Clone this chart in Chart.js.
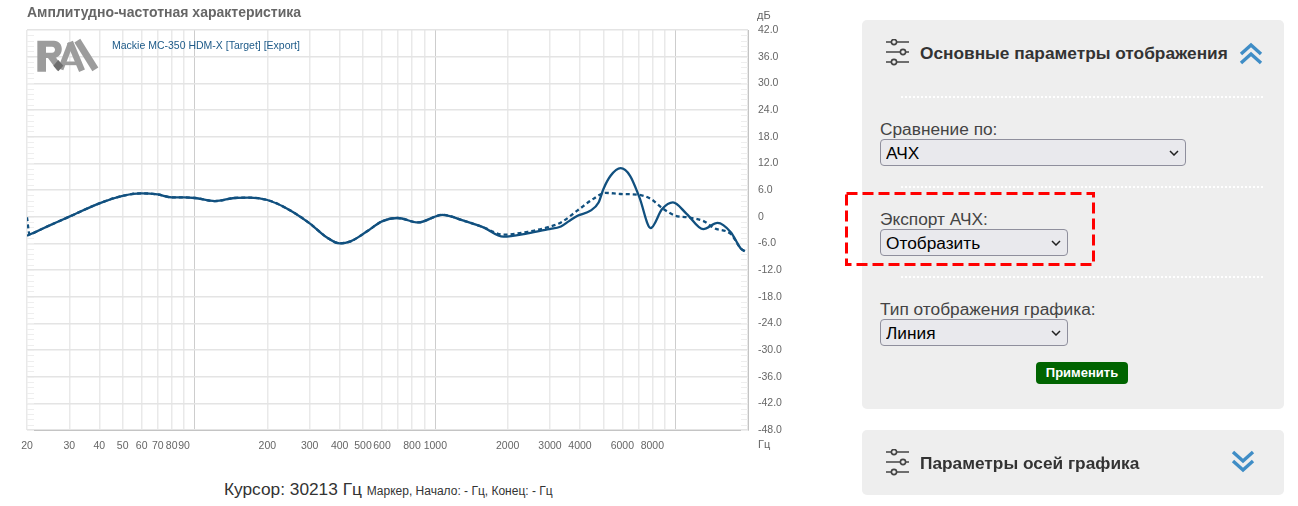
<!DOCTYPE html>
<html lang="ru">
<head>
<meta charset="utf-8">
<title>АЧХ</title>
<script src="https://cdn.jsdelivr.net/npm/chart.js@4/dist/chart.umd.min.js"></script>
<style>
html, body { margin: 0; padding: 0; background: #fff; overflow: hidden; }
body { width: 1298px; height: 506px; position: relative; font-family: "Liberation Sans", Arial, sans-serif; }
.abs { position: absolute; white-space: nowrap; }
#chartBox { position: absolute; left: 0; top: 1px; width: 800px; height: 470px; }
.panel { position: absolute; left: 862px; width: 422px; background: #eee; border-radius: 5px; }
.head { font-weight: bold; font-size: 17.3px; color: #333; }
.lbl { font-size: 17.3px; color: #444; }
.dots { position: absolute; left: 901px; width: 362px; border-top: 2px dotted #fff; height: 0; }
select { position: absolute; font: 17.3px "Liberation Sans", Arial, sans-serif; height: 27px; border: 1px solid #8f8f9d; border-radius: 4px; color: #000; padding: 1px 0 0 5px; box-sizing: border-box; appearance: none; -webkit-appearance: none;
  background: #e9e9ed url("data:image/svg+xml,%3Csvg xmlns='http://www.w3.org/2000/svg' width='10' height='6'%3E%3Cpath d='M1 1l4 4 4-4' fill='none' stroke='%23222' stroke-width='1.5'/%3E%3C/svg%3E") no-repeat right 6px center; }
#apply { position: absolute; left: 1036px; top: 362px; width: 92px; height: 22px; background: #006400; color: #fff; border-radius: 4px; font: bold 13px/22px "Liberation Sans", Arial, sans-serif; text-align: center; }
</style>
</head>
<body>
<div id="chartBox"><canvas id="afcChart" width="800" height="470"></canvas></div>

<div class="abs" style="left:27px;top:4px;font:bold 14px/16px 'Liberation Sans',Arial,sans-serif;color:#666">Амплитудно-частотная характеристика</div>
<svg class="abs" style="left:20px;top:20px" width="100" height="70" viewBox="0 0 300 210">
  <g stroke="#9c9c9c" fill="none">
    <path d="M52 62H102C132 62 134 108 104 114H78V155H52Z" fill="#9c9c9c" stroke="none"/>
    <path d="M78 80H96C108 80 108 98 96 98H78Z" fill="#fff" stroke="none"/>
    <line x1="92" y1="108" x2="120" y2="146" stroke-width="20"/>
    <line x1="122" y1="148" x2="152" y2="70" stroke-width="17"/>
    <line x1="150" y1="66" x2="186" y2="152" stroke-width="19"/>
    <line x1="132" y1="130" x2="172" y2="130" stroke-width="11"/>
    <line x1="172" y1="62" x2="226" y2="148" stroke-width="21"/>
  </g>
  <path d="M115 120l15 17-15 17-15-17z" fill="#6f6f6f"/>
</svg>
<div class="abs" style="left:112px;top:39px;font-size:10.5px;line-height:13px;color:#1d5a88">Mackie MC-350 HDM-X [Target] [Export]</div>
<div class="abs" style="left:757px;top:9px;font-size:11px;line-height:13px;color:#666">дБ</div>
<div class="abs" style="left:758px;top:438px;font-size:11px;line-height:13px;color:#666">Гц</div>
<div class="abs" style="left:224px;top:479px;font-size:17.3px;line-height:20px;color:#333">Курсор: 30213 Гц <span style="font-size:12px">Маркер, Начало: - Гц, Конец: - Гц</span></div>

<div class="panel" style="top:20px;height:389px"></div>
<div class="panel" style="top:430px;height:65px"></div>

<svg class="abs" style="left:885px;top:39px" width="26" height="28" viewBox="0 0 26 28"><use href="#sliders"/></svg>
<svg class="abs" style="left:885px;top:449px" width="26" height="28" viewBox="0 0 26 28">
  <g id="sliders" stroke="#444" stroke-width="1.6" fill="#eee">
    <path d="M1 3h5M12 3h12M1 13h14M21 13h3M1 23h5M12 23h12" fill="none"/>
    <circle cx="9" cy="3" r="2.6"/><circle cx="18" cy="13" r="2.6"/><circle cx="9" cy="23" r="2.6"/>
  </g>
</svg>
<div class="abs head" style="left:920px;top:43px">Основные параметры отображения</div>
<div class="abs head" style="left:920px;top:453px">Параметры осей графика</div>
<svg class="abs" style="left:1239px;top:42px" width="24" height="23" viewBox="0 0 24 23" fill="none" stroke="#3f8dc6" stroke-width="3.4"><path d="M2 12 12 3l10 9M2 21l10-9 10 9"/></svg>
<svg class="abs" style="left:1231px;top:450px" width="24" height="23" viewBox="0 0 24 23" fill="none" stroke="#3f8dc6" stroke-width="3.4"><path d="M2 2l10 9 10-9M2 11l10 9 10-9"/></svg>

<div class="dots" style="top:96px"></div>
<div class="dots" style="top:186px"></div>
<div class="dots" style="top:276px"></div>

<div class="abs lbl" style="left:880px;top:119px">Сравнение по:</div>
<select style="left:880px;top:139px;width:306px"><option>АЧХ</option></select>
<div class="abs lbl" style="left:880px;top:209px">Экспорт АЧХ:</div>
<select style="left:880px;top:229px;width:188px"><option>Отобразить</option></select>
<div class="abs lbl" style="left:880px;top:299px">Тип отображения графика:</div>
<select style="left:880px;top:319px;width:188px"><option>Линия</option></select>
<div id="apply">Применить</div>
<svg class="abs" style="left:840px;top:188px" width="260" height="82"><rect x="6.5" y="5.5" width="247" height="71" fill="none" stroke="#f00" stroke-width="3" stroke-dasharray="11 5"/></svg>

<script>
// частоты и уровни
const targetFreq = [20, 22, 25, 30, 40, 50, 60, 70, 80, 90, 100, 121, 146, 167, 200, 242, 300, 353, 400, 444, 520, 600, 697, 848, 1070, 1312, 1585, 1918, 2423, 2928, 3332, 3600, 3906, 4423, 4778, 5012, 5362, 5902, 6461, 7067, 7875, 8784, 9743, 11106, 13024, 14942, 16961, 18700, 19400];
const targetDb = [-4.3, -3.3, -1.9, 0.0, 3.0, 4.7, 5.25, 5.0, 4.35, 4.35, 4.2, 3.5, 4.2, 4.3, 3.75, 1.8, -1.5, -4.65, -6.0, -5.55, -3.3, -1.05, -0.3, -1.3, 0.4, -0.9, -2.4, -4.5, -3.75, -2.85, -2.2, -1.0, 0.2, 1.35, 3.2, 6.3, 9.2, 10.9, 9.2, 4.35, -2.55, 1.7, 3.2, 0.65, -2.8, -1.4, -3.5, -7.2, -7.8];

const exportFreq = [20, 20.5, 22, 25, 30, 40, 50, 60, 70, 80, 90, 100, 121, 146, 167, 200, 242, 300, 353, 400, 444, 520, 600, 697, 848, 1070, 1312, 1585, 1918, 2423, 2928, 3332, 3897, 4543, 5109, 5906, 6966, 7875, 8784, 9995, 11207, 13125, 14437, 16961, 18700, 19400];
const exportDb = [-0.15, -4.0, -3.3, -1.9, 0.0, 3.0, 4.7, 5.25, 5.0, 4.35, 4.35, 4.2, 3.5, 4.2, 4.3, 3.75, 1.8, -1.5, -4.65, -6.0, -5.55, -3.3, -1.05, -0.3, -1.3, 0.4, -0.9, -2.4, -4.05, -3.4, -2.4, -1.3, 1.35, 4.0, 5.35, 5.1, 4.95, 4.0, 1.95, 0.2, -0.15, -1.05, -2.55, -3.9, -7.2, -7.8];

const gridFreq = [20, 30, 40, 50, 60, 70, 80, 90, 100, 200, 300, 400, 500, 600, 700, 800, 900, 1000, 2000, 3000, 4000, 5000, 6000, 7000, 8000, 9000, 10000, 20000];
const freqLabels = [20, 30, 40, 50, 60, 70, 80, 90, 200, 300, 400, 500, 600, 800, 1000, 2000, 3000, 4000, 6000, 8000];
const decades = [100, 1000, 10000];

const lineColor = '#11507f';

// короткие деления у краёв графика
const minorTicks = {
  id: 'minorTicks',
  beforeDatasetsDraw(chart) {
    const { ctx, chartArea: a, scales: { y } } = chart;
    ctx.save();
    ctx.strokeStyle = '#eeeeee';
    ctx.lineWidth = 1;
    ctx.beginPath();
    for (let db = -48; db < 42; db += 1.2) {
      const py = Math.round(y.getPixelForValue(db)) + 0.5;
      ctx.moveTo(a.left, py); ctx.lineTo(a.left + 7, py);
      ctx.moveTo(a.right - 7, py); ctx.lineTo(a.right, py);
    }
    ctx.stroke();
    ctx.restore();
  }
};

new Chart(document.getElementById('afcChart').getContext('2d'), {
  type: 'line',
  plugins: [minorTicks],
  data: {
    datasets: [{
      label: 'Mackie MC-350 HDM-X [Target]',
      data: targetFreq.map((f, i) => ({ x: f, y: targetDb[i] })),
      borderColor: lineColor,
      borderWidth: 2.3,
      pointRadius: 0,
      cubicInterpolationMode: 'monotone'
    }, {
      label: 'Mackie MC-350 HDM-X [Export]',
      data: exportFreq.map((f, i) => ({ x: f, y: exportDb[i] })),
      borderColor: lineColor,
      borderWidth: 2.3,
      borderDash: [4, 3],
      pointRadius: 0,
      cubicInterpolationMode: 'monotone'
    }]
  },
  options: {
    responsive: false,
    animation: false,
    layout: { padding: { left: 27, top: 29, right: 0, bottom: 0 } },
    plugins: { legend: { display: false }, tooltip: { enabled: false } },
    scales: {
      x: {
        type: 'logarithmic',
        min: 20,
        max: 20000,
        afterBuildTicks: scale => { scale.ticks = gridFreq.map(v => ({ value: v })); },
        afterFit: scale => { scale.height = 41; },
        border: { color: '#c4c4c4' },
        grid: {
          drawTicks: false,
          color: c => decades.includes(c.tick && c.tick.value) ? '#cdcdcd' : '#e9e9e9',
          lineWidth: c => (c.tick && decades.includes(c.tick.value)) ? 1 : 1.5
        },
        ticks: {
          autoSkip: false,
          maxRotation: 0,
          padding: 10,
          color: '#666',
          font: { family: '"Liberation Sans", Arial, sans-serif', size: 10.5 },
          callback: v => freqLabels.includes(v) ? String(v) : ''
        }
      },
      y: {
        position: 'right',
        min: -48,
        max: 42,
        afterFit: scale => { scale.width = 52; },
        border: { color: '#c4c4c4' },
        grid: { drawTicks: false, color: '#e4e4e4', lineWidth: 1.5 },
        ticks: {
          stepSize: 6,
          padding: 10,
          color: '#666',
          font: { family: '"Liberation Sans", Arial, sans-serif', size: 10.5 },
          callback: v => v === 0 ? '0' : v.toFixed(1)
        }
      }
    }
  }
});
</script>
</body>
</html>
